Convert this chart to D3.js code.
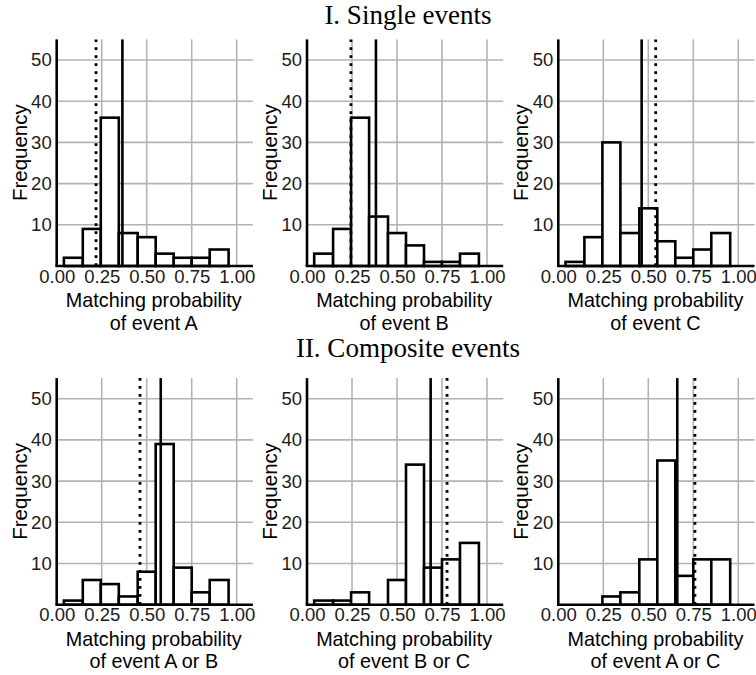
<!DOCTYPE html>
<html><head><meta charset="utf-8">
<script src="https://cdn.jsdelivr.net/npm/d3@7"></script>
<style>body{margin:0;background:#fff}svg{display:block}</style>
</head><body>
<svg id="chart" width="756" height="675"></svg>
<script>
// ---- data ----
const binEdges = [0.04, 0.145, 0.245, 0.345, 0.45, 0.55, 0.65, 0.75, 0.85, 0.955];
const countsA  = [2, 9, 36, 8, 7, 3, 2, 2, 4];
const countsB  = [3, 9, 36, 12, 8, 5, 1, 1, 3];
const countsC  = [1, 7, 30, 8, 14, 6, 2, 4, 8];
const countsAB = [1, 6, 5, 2, 8, 39, 9, 3, 6];
const countsBC = [1, 1, 3, 0, 6, 34, 9, 11, 15];
const countsAC = [0, 0, 2, 3, 11, 35, 7, 11, 11];
const solidLines  = [0.365, 0.383, 0.463, 0.578, 0.687, 0.661];
const dottedLines = [0.2185, 0.244, 0.541, 0.463, 0.778, 0.759];
const eventLabels = ["of event A", "of event B", "of event C", "of event A or B", "of event B or C", "of event A or C"];
const sectionTitles = ["I. Single events", "II. Composite events"];
const xTicks = [0, 0.25, 0.5, 0.75, 1.0];
const yTicks = [10, 20, 30, 40, 50];
const xLabel = "Matching probability";
const yLabel = "Frequency";

const allCounts = [countsA, countsB, countsC, countsAB, countsBC, countsAC];

// ---- layout ----
const svg = d3.select("#chart");
const colX = [56.7, 307, 558.3];
const rowBase = [266, 604.7];
const titleY = [24, 357];
const pw = 196.2, ph = 226.6;
const sans = "'Liberation Sans', Arial, sans-serif";
const serif = "'Liberation Serif', 'Times New Roman', serif";

const x = d3.scaleLinear().domain([0, 1.09]).range([0, pw]);
const y = d3.scaleLinear().domain([0, 55]).range([ph, 0]);

sectionTitles.forEach((t, i) => {
  svg.append("text").attr("x", 408).attr("y", titleY[i])
    .attr("text-anchor", "middle").attr("font-family", serif)
    .attr("font-size", 27).attr("fill", "#000").text(t);
});

allCounts.forEach((counts, p) => {
  const row = Math.floor(p / 3), col = p % 3;
  const g = svg.append("g").attr("transform", `translate(${colX[col]},${rowBase[row] - ph})`);

  // gridlines
  g.selectAll(".gx").data(xTicks.filter(d => d > 0)).enter().append("line")
    .attr("x1", d => x(d)).attr("x2", d => x(d)).attr("y1", 0).attr("y2", ph)
    .attr("stroke", "#b3b3b3").attr("stroke-width", 1.6);
  g.selectAll(".gy").data(yTicks).enter().append("line")
    .attr("x1", 0).attr("x2", pw).attr("y1", d => y(d)).attr("y2", d => y(d))
    .attr("stroke", "#b3b3b3").attr("stroke-width", 1.6);

  // bars
  const bins = counts.map((c, i) => ({c, x0: binEdges[i], x1: binEdges[i + 1]})).filter(b => b.c > 0);
  g.selectAll(".bar").data(bins).enter().append("rect")
    .attr("x", d => x(d.x0)).attr("width", d => x(d.x1) - x(d.x0))
    .attr("y", d => y(d.c)).attr("height", d => y(0) - y(d.c))
    .attr("fill", "#fff").attr("stroke", "#000").attr("stroke-width", 2.6);

  // reference lines
  g.append("line").attr("x1", x(solidLines[p])).attr("x2", x(solidLines[p]))
    .attr("y1", 0).attr("y2", ph).attr("stroke", "#000").attr("stroke-width", 2.6);
  g.append("line").attr("x1", x(dottedLines[p])).attr("x2", x(dottedLines[p]))
    .attr("y1", ph).attr("y2", 0).attr("stroke", "#000").attr("stroke-width", 2.8)
    .attr("stroke-dasharray", "2.8,5.2");

  // axis lines
  g.append("line").attr("x1", 0).attr("x2", 0).attr("y1", 0).attr("y2", ph)
    .attr("stroke", "#000").attr("stroke-width", 2.6);
  g.append("line").attr("x1", -1.3).attr("x2", pw).attr("y1", ph).attr("y2", ph)
    .attr("stroke", "#000").attr("stroke-width", 2.6);

  // tick labels via axes
  const ax = g.append("g").attr("transform", `translate(0,${ph})`)
    .call(d3.axisBottom(x).tickValues(xTicks).tickFormat(d3.format(".2f")).tickSize(0).tickPadding(3.5));
  ax.select(".domain").remove();
  ax.selectAll("text").attr("font-family", sans).attr("font-size", 18.5).attr("fill", "#1a1a1a");

  const ay = g.append("g")
    .call(d3.axisLeft(y).tickValues(yTicks).tickSize(0).tickPadding(5));
  ay.select(".domain").remove();
  ay.selectAll("text").attr("font-family", sans).attr("font-size", 18.5).attr("fill", "#1a1a1a");

  // axis titles
  g.append("text").attr("transform", "rotate(-90)")
    .attr("x", -ph / 2).attr("y", -30.2).attr("text-anchor", "middle")
    .attr("font-family", sans).attr("font-size", 20.5).attr("fill", "#000").text(yLabel);
  g.append("text").attr("x", pw / 2 - 1).attr("y", ph + 41.3).attr("text-anchor", "middle")
    .attr("font-family", sans).attr("font-size", 19.8).attr("fill", "#000").text(xLabel);
  g.append("text").attr("x", pw / 2 - 1).attr("y", ph + 63.6).attr("text-anchor", "middle")
    .attr("font-family", sans).attr("font-size", 19.8).attr("fill", "#000").text(eventLabels[p]);
});
</script>
</body></html>
